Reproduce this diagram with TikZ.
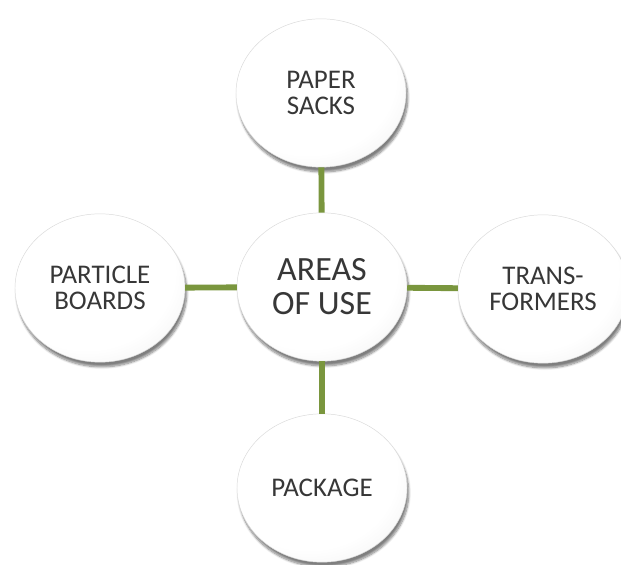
\documentclass[tikz,border=0pt]{standalone}
\usepackage{fontspec}
\setmainfont{Carlito}
\usetikzlibrary{shapes.geometric,shadows.blur}
\definecolor{stemgreen}{RGB}{122,150,62}
\definecolor{bubbletext}{RGB}{55,55,55}
\pgfdeclareradialshading{bubble}{\pgfpoint{-7bp}{9bp}}{color(0bp)=(white); color(26bp)=(white); color(38bp)=(black!6); color(46bp)=(black!14); color(52bp)=(black!30); color(58bp)=(black!50); color(62bp)=(black!55)}
\begin{document}
\begin{tikzpicture}[
        bubble/.style={ellipse, minimum width=5.1cm, minimum height=4.45cm,
            shading=bubble, draw=black!15, line width=0.4pt, text=bubbletext, align=center,
            blur shadow={shadow xshift=1.5pt, shadow yshift=-4pt, shadow blur steps=8, shadow opacity=50},
            font=\fontsize{23}{22}\selectfont},
        stem/.style={line width=5pt, stemgreen}
    ]
    \useasboundingbox (0,0) rectangle (18.63,16.92);
        \node 
            [bubble, font=\fontsize{29}{29}\selectfont] (areas) at (9.66,8.31) {AREAS\\OF USE};
        \node 
            [bubble] (sacks) at (9.63,14.13) {PAPER\\SACKS};
        \node 
            [bubble] (boards) at (3.0,8.28) {PARTICLE\\BOARDS};
        \node 
            [bubble] (transf) at (16.29,8.25) {TRANS-\\FORMERS};
        \node 
            [bubble] (package) at (9.66,2.28) {PACKAGE};
        \draw 
            [stem] (areas)--(sacks);
        \draw 
            [stem] (areas)--(boards);
        \draw 
            [stem] (areas)--(transf);
        \draw 
            [stem] (areas)--(package);
    \end{tikzpicture}
\end{document}
